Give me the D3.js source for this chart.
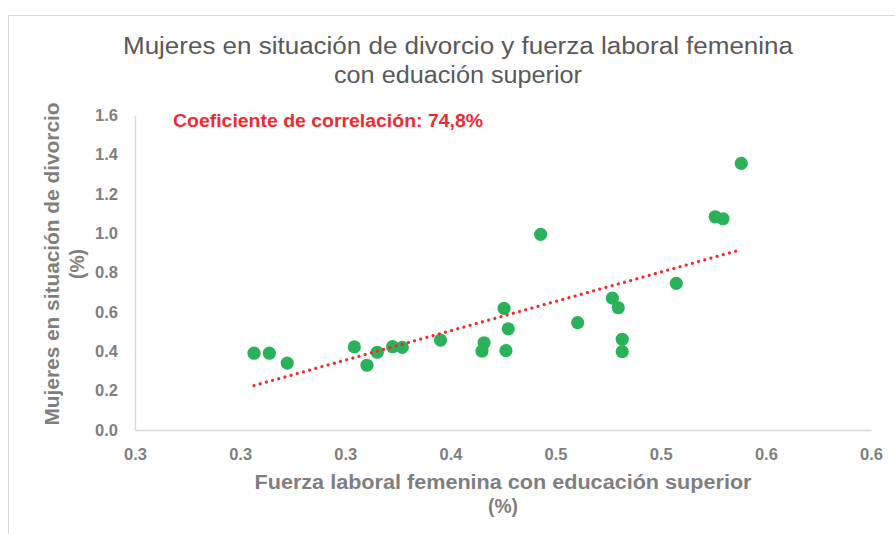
<!DOCTYPE html>
<html>
<head>
<meta charset="utf-8">
<script src="https://cdn.jsdelivr.net/npm/d3@7"></script>
<style>
  html, body { margin: 0; padding: 0; background: #fff; }
  svg { display: block; font-family: "Liberation Sans", Arial, sans-serif; }
</style>
</head>
<body>
<svg id="chart" width="895" height="534"></svg>
<script>
// ---- data ----
const xValues = [0.3066, 0.3139, 0.3224, 0.3543, 0.3603, 0.3652, 0.3725, 0.3771, 0.3953, 0.4150, 0.4160, 0.4255,
                 0.4264, 0.4275, 0.4429, 0.4605, 0.4770, 0.4798, 0.4817, 0.4817, 0.5074, 0.5259, 0.5296, 0.5383];
const yValues = [0.390, 0.390, 0.340, 0.422, 0.329, 0.395, 0.423, 0.420, 0.457, 0.401, 0.443, 0.618,
                 0.403, 0.514, 0.994, 0.545, 0.670, 0.621, 0.461, 0.398, 0.745, 1.083, 1.073, 1.354];
const xTicks = [0.25, 0.30, 0.35, 0.40, 0.45, 0.50, 0.55, 0.60];
const yTicks = [0.0, 0.2, 0.4, 0.6, 0.8, 1.0, 1.2, 1.4, 1.6];
const titleLines = ["Mujeres en situación de divorcio y fuerza laboral femenina", "con eduación superior"];
const xTitleLines = ["Fuerza laboral femenina con educación superior", "(%)"];
const yTitleLines = ["Mujeres en situación de divorcio", "(%)"];
const correlationLabel = "Coeficiente de correlación: 74,8%";

const points = xValues.map((x, i) => ({x, y: yValues[i]}));

const svg = d3.select("#chart");
const x = d3.scaleLinear().domain([0.25, 0.60]).range([135, 871]);
const y = d3.scaleLinear().domain([0, 1.6]).range([430, 115]);

const grey = "#7f7f7f";
const FONT = "Liberation Sans, Arial, sans-serif";

// chart border
svg.append("rect").attr("x", 8.5).attr("y", 15.5).attr("width", 900).attr("height", 540)
  .attr("fill", "none").attr("stroke", "#d9d9d9").attr("stroke-width", 1);

// axes
const xAxis = svg.append("g").attr("transform", `translate(0,${y(0)})`)
  .call(d3.axisBottom(x).tickValues(xTicks).tickSize(0).tickFormat(d3.format(".1f")));
xAxis.select(".domain").attr("stroke", "#d9d9d9").attr("stroke-width", 1.3);
xAxis.selectAll("text").attr("fill", grey).attr("font-size", 16.5).attr("font-weight", "bold")
  .attr("font-family", FONT).attr("y", 30).attr("dy", 0);

const yAxis = svg.append("g").attr("transform", `translate(${x(0.25)},0)`)
  .call(d3.axisLeft(y).tickValues(yTicks).tickSize(0).tickFormat(d3.format(".1f")));
yAxis.select(".domain").attr("stroke", "#d9d9d9").attr("stroke-width", 1.3);
yAxis.selectAll("text").attr("fill", grey).attr("font-size", 16.5).attr("font-weight", "bold")
  .attr("font-family", FONT).attr("x", -17);

// trend line (least squares)
const mx = d3.mean(xValues), my = d3.mean(yValues);
const sxy = d3.sum(points, p => (p.x - mx) * (p.y - my));
const sxx = d3.sum(points, p => (p.x - mx) ** 2);
const slope = sxy / sxx, intercept = my - slope * mx;
const [x0, x1] = d3.extent(xValues);
const trend = [x0, x1].map(v => ({x: v, y: intercept + slope * v}));

// points
svg.append("g").selectAll("circle").data(points).join("circle")
  .attr("cx", d => x(d.x)).attr("cy", d => y(d.y)).attr("r", 6.6)
  .attr("fill", "#29b25a");

svg.append("path").datum(trend)
  .attr("d", d3.line().x(d => x(d.x)).y(d => y(d.y)))
  .attr("fill", "none").attr("stroke", "#ee2b2f").attr("stroke-width", 3.2)
  .attr("stroke-linecap", "round").attr("stroke-dasharray", "0.01 6.4");

// title
const titleWidths = [670, 248];
titleLines.forEach((t, i) => {
  svg.append("text").attr("x", 458).attr("y", 54 + i * 29).attr("text-anchor", "middle")
    .attr("font-size", 23).attr("fill", "#595959")
    .attr("textLength", titleWidths[i]).attr("lengthAdjust", "spacingAndGlyphs").text(t);
});

// correlation label
svg.append("text").attr("x", 173).attr("y", 127).attr("font-size", 18)
  .attr("font-weight", "bold").attr("fill", "#ee2b2f")
  .attr("textLength", 310).attr("lengthAdjust", "spacingAndGlyphs").text(correlationLabel);

// x axis title
const xTitleWidths = [497, 30];
xTitleLines.forEach((t, i) => {
  svg.append("text").attr("x", 503).attr("y", 489 + i * 24).attr("text-anchor", "middle")
    .attr("font-size", 20).attr("font-weight", "bold").attr("fill", grey)
    .attr("textLength", xTitleWidths[i]).attr("lengthAdjust", "spacingAndGlyphs").text(t);
});

// y axis title
const yTitleWidths = [323, 30];
yTitleLines.forEach((t, i) => {
  svg.append("text").attr("transform", `translate(${59 + i * 25},264) rotate(-90)`)
    .attr("text-anchor", "middle")
    .attr("font-size", 20).attr("font-weight", "bold").attr("fill", grey)
    .attr("textLength", yTitleWidths[i]).attr("lengthAdjust", "spacingAndGlyphs").text(t);
});
</script>
</body>
</html>
